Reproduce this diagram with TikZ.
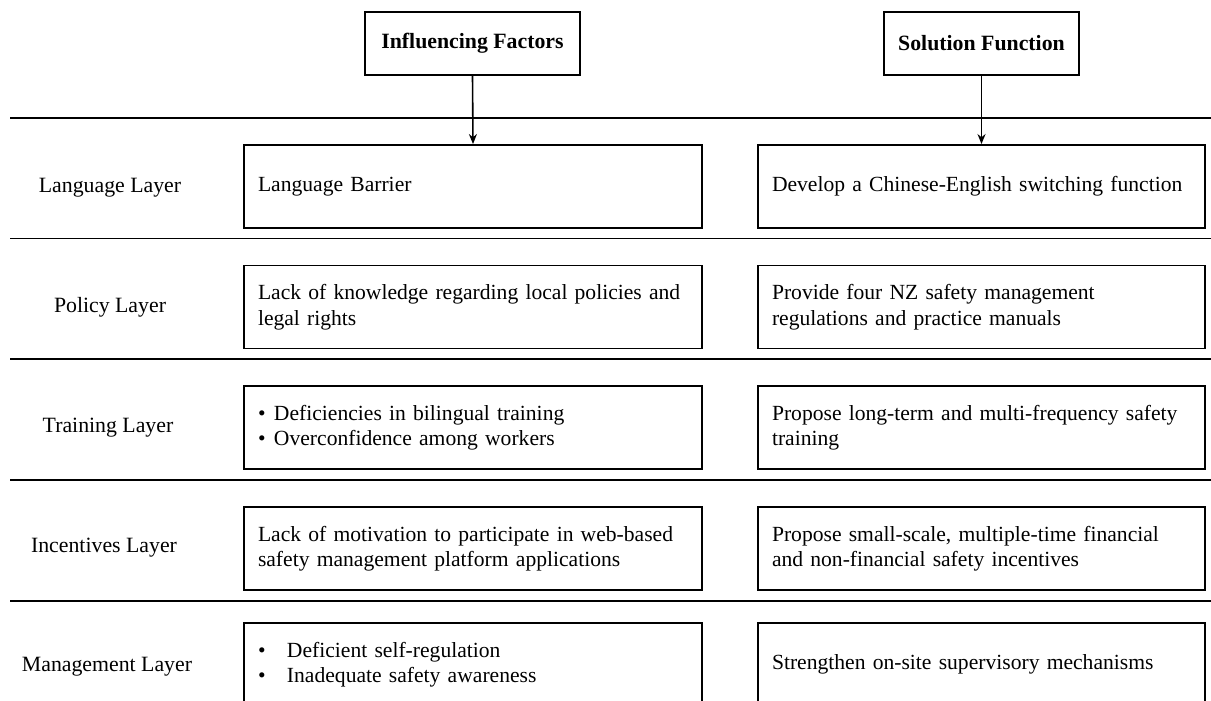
\documentclass[tikz,border=0pt]{standalone}
\usepackage{fontspec}
\setmainfont{Liberation Serif}
\usetikzlibrary{arrows.meta}
\tikzset{
  rowline/.style={line width=1.9pt},
  head/.style={draw, line width=1.9pt, minimum height=63pt, inner xsep=12pt, font=\fontsize{21.8}{25.5}\selectfont\bfseries},
  lbox/.style={draw, line width=1.9pt, minimum height=83pt, inner xsep=14pt, text width=430pt, align=left, font=\fontsize{21.6}{25.5}\selectfont},
  rbox/.style={draw, line width=1.9pt, minimum height=83pt, inner xsep=14pt, text width=419pt, align=left, font=\fontsize{21.6}{25.5}\selectfont},
  layer/.style={font=\fontsize{21.8}{25.5}\selectfont},
  conn/.style={line width=1.6pt, -{Stealth[length=10pt,width=8pt]}}
}
\newcommand{\bl}[1]{\makebox[16pt][l]{•}#1}
\newcommand{\blw}[1]{\makebox[29pt][l]{•}#1}
\begin{document}
\begin{tikzpicture}[x=1pt,y=-1pt]
\useasboundingbox (0,0) rectangle (1211,701);
\clip (0,0) rectangle (1211,701);
\fill[white] (0,0) rectangle (1211,701);

% header boxes
\node[head, minimum width=215pt] (hf) at (472.5,43.5) {Influencing Factors};
\node[head, minimum width=195pt] (hs) at (981.5,43.5) {Solution Function};

% horizontal lines
\coordinate (l1a) at (10,118);  \coordinate (l1b) at (1211,118);
\coordinate (l2a) at (10,238.5); \coordinate (l2b) at (1211,238.5);
\coordinate (l3a) at (10,359);  \coordinate (l3b) at (1211,359);
\coordinate (l4a) at (10,480);  \coordinate (l4b) at (1211,480);
\coordinate (l5a) at (10,601);  \coordinate (l5b) at (1211,601);
\draw[rowline] (l1a) -- (l1b);
\draw[rowline] (l2a) -- (l2b);
\draw[rowline] (l3a) -- (l3b);
\draw[rowline] (l4a) -- (l4b);
\draw[rowline] (l5a) -- (l5b);

% layer labels
\node[layer] (t1) at (110,188) {Language Layer};
\node[layer] (t2) at (110,307) {Policy Layer};
\node[layer] (t3) at (108,428) {Training Layer};
\node[layer] (t4) at (104,548) {Incentives Layer};
\node[layer] (t5) at (107,667) {Management Layer};

% left boxes
\node[lbox] (a1) at (473,186.5) {Language Barrier};
\node[lbox] (a2) at (473,307) {Lack of knowledge regarding local policies and\\legal rights};
\node[lbox] (a3) at (473,427.5) {\bl{Deficiencies in bilingual training}\\\bl{Overconfidence among workers}};
\node[lbox] (a4) at (473,548.5) {Lack of motivation to participate in web-based\\safety management platform applications};
\node[lbox] (a5) at (473,664.5) {\blw{Deficient self-regulation}\\\blw{Inadequate safety awareness}};

% right boxes
\node[rbox] (b1) at (981.5,186.5) {Develop a Chinese-English switching function};
\node[rbox] (b2) at (981.5,307) {Provide four NZ safety management\\regulations and practice manuals};
\node[rbox] (b3) at (981.5,427.5) {Propose long-term and multi-frequency safety\\training};
\node[rbox] (b4) at (981.5,548.5) {Propose small-scale, multiple-time financial\\and non-financial safety incentives};
\node[rbox] (b5) at (981.5,664.5) {Strengthen on-site supervisory mechanisms};

% connectors
\draw[conn] (hf.south) -- (a1.north);
\draw[conn] (hs.south) -- (b1.north);
\end{tikzpicture}
\end{document}
